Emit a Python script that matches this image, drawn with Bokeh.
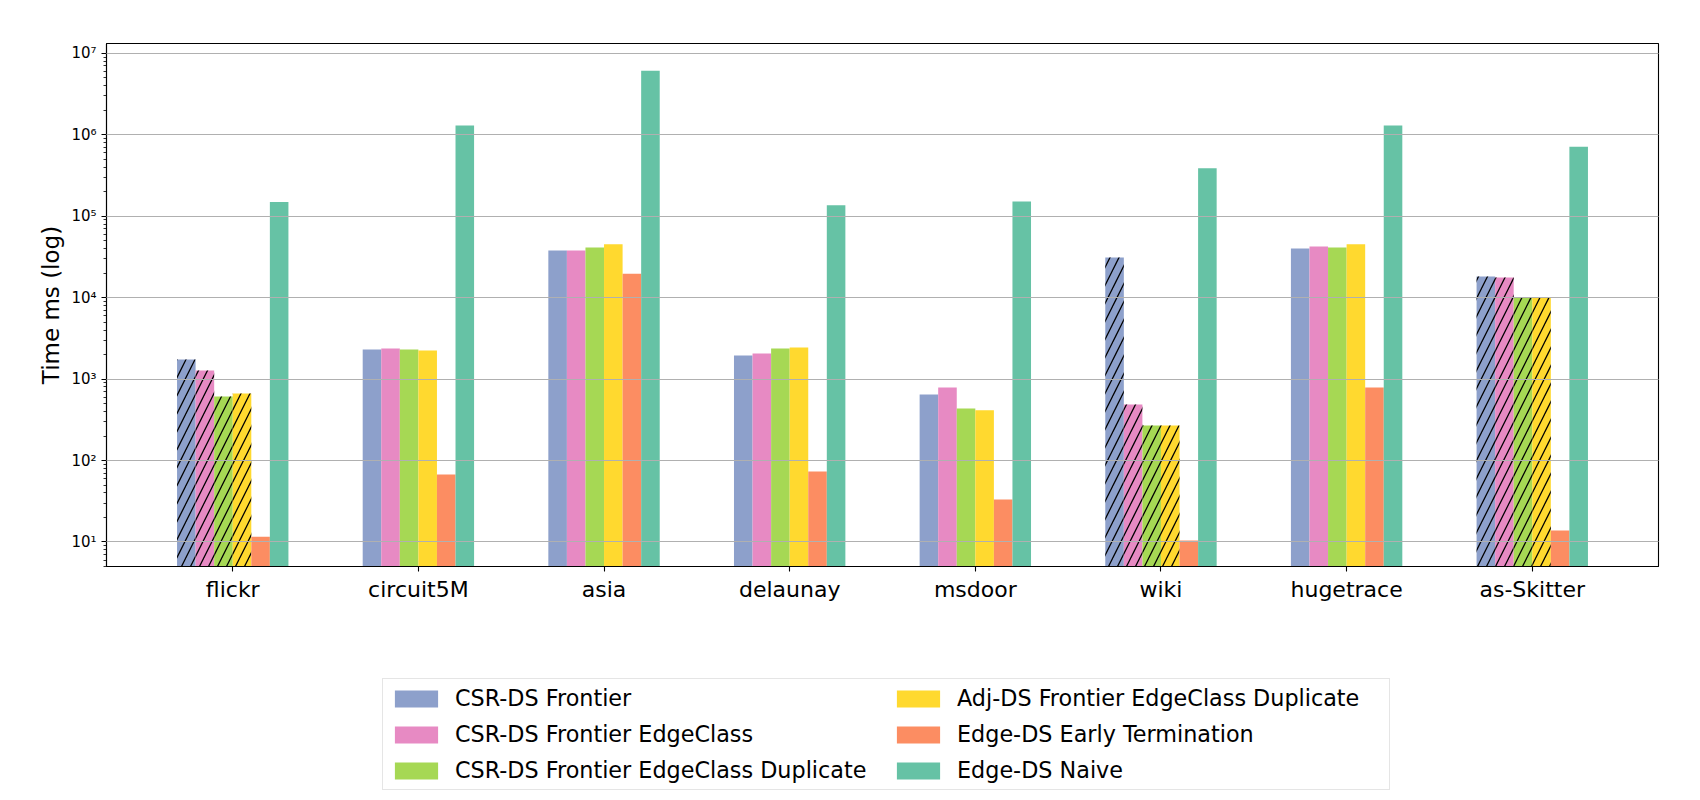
import numpy as np
from bokeh.plotting import figure
from bokeh.layouts import column
from bokeh.models import (ColumnDataSource, Range1d, FixedTicker, CustomJSTickFormatter,
                          Legend, LegendItem)
from bokeh.embed import file_html
from bokeh.resources import INLINE

categories = ["flickr", "circuit5M", "asia", "delaunay", "msdoor", "wiki", "hugetrace", "as-Skitter"]
series_names = [
    "CSR-DS Frontier",
    "CSR-DS Frontier EdgeClass",
    "CSR-DS Frontier EdgeClass Duplicate",
    "Adj-DS Frontier EdgeClass Duplicate",
    "Edge-DS Early Termination",
    "Edge-DS Naive",
]
csr_frontier = [1742, 2311, 38000, 1950, 647, 31200, 40200, 18200]
csr_frontier_edgeclass = [1276, 2377, 38000, 2064, 788, 488, 42600, 17700]
csr_frontier_edgeclass_dup = [611, 2311, 41400, 2378, 435, 269, 41400, 10000]
adj_frontier_edgeclass_dup = [665, 2245, 45100, 2445, 415, 269, 45100, 10000]
edge_early_termination = [11.6, 67.3, 19700, 73.3, 33.2, 10.4, 788, 13.8]
edge_naive = [149000, 1300000, 6100000, 136000, 152000, 387000, 1300000, 713000]

hatched_groups = ["flickr", "wiki", "as-Skitter"]
hatched_series = [True, True, True, True, False, False]
colors = ["#8da0cb", "#e78ac3", "#a6d854", "#ffd92f", "#fc8d62", "#66c2a5"]

series_values = [csr_frontier, csr_frontier_edgeclass, csr_frontier_edgeclass_dup,
                 adj_frontier_edgeclass_dup, edge_early_termination, edge_naive]

bar_w = 0.1
n = len(series_values)
W = 1684
FRAME_LEFT = 106

p = figure(width=W, height=616, y_axis_type="log",
           x_range=Range1d(-0.68, 7.68), y_range=Range1d(5, 1.32e7),
           output_backend="svg", toolbar_location=None,
           min_border_left=FRAME_LEFT, min_border_right=26, min_border_top=43, min_border_bottom=50)

base = np.arange(len(categories))
for k, vals in enumerate(series_values):
    xs = base + (k - (n - 1) / 2) * bar_w
    hp = ["/" if (hatched_series[k] and c in hatched_groups) else " " for c in categories]
    src = ColumnDataSource(dict(x=xs, top=vals, hp=hp))
    p.vbar(x="x", top="top", bottom=1, width=bar_w, source=src,
           fill_color=colors[k], line_color=None,
           hatch_pattern="hp", hatch_color="black", hatch_weight=1.3, hatch_scale=18)

p.outline_line_color = "black"
p.outline_line_width = 1.1

p.yaxis.ticker = FixedTicker(ticks=[10.0 ** e for e in range(1, 8)],
                             minor_ticks=[m * 10.0 ** e for e in range(0, 8) for m in range(2, 10)])
p.yaxis.formatter = CustomJSTickFormatter(code="""
const sup = {"0":"\u2070","1":"\u00b9","2":"\u00b2","3":"\u00b3","4":"\u2074","5":"\u2075","6":"\u2076","7":"\u2077","8":"\u2078","9":"\u2079","-":"\u207b"};
const e = Math.round(Math.log10(tick));
return "10" + String(e).split("").map(c => sup[c]).join("");
""")
p.yaxis.axis_label = "Time ms (log)"
p.yaxis.axis_label_text_font = "DejaVu Sans"
p.yaxis.axis_label_text_font_size = "23px"
p.yaxis.axis_label_text_font_style = "normal"
p.yaxis.axis_label_text_color = "black"
p.yaxis.axis_label_standoff = 4
p.yaxis.major_label_text_font = "DejaVu Sans"
p.yaxis.major_label_text_font_size = "15px"
p.yaxis.major_label_text_color = "black"
p.yaxis.major_tick_out = 5
p.yaxis.major_tick_in = 0
p.yaxis.minor_tick_out = 3
p.yaxis.minor_tick_in = 0
p.yaxis.major_label_standoff = 5

p.xaxis.ticker = FixedTicker(ticks=list(range(len(categories))), minor_ticks=[])
p.xaxis.formatter = CustomJSTickFormatter(args=dict(labels=categories), code="""
const i = Math.round(tick);
return (i >= 0 && i < labels.length) ? labels[i] : "";
""")
p.xaxis.major_label_text_font = "DejaVu Sans"
p.xaxis.major_label_text_font_size = "22px"
p.xaxis.major_label_text_color = "black"
p.xaxis.major_tick_out = 5
p.xaxis.major_tick_in = 0
p.xaxis.minor_tick_out = 0
p.xaxis.major_label_standoff = 5

for ax in (p.xaxis[0], p.yaxis[0]):
    ax.axis_line_color = "black"
    ax.axis_line_width = 1.1
    ax.major_tick_line_width = 1.1
    ax.minor_tick_line_width = 0.8

p.xgrid.grid_line_color = None
p.ygrid.grid_line_color = "#b0b0b0"
p.ygrid.grid_line_width = 1.1
p.ygrid.level = "annotation"

# legend figure below the chart (its frame is aligned with the chart's frame by the column)
leg_fig = figure(width=W, height=176, x_range=Range1d(0, 1), y_range=Range1d(0, 1),
                 output_backend="svg", toolbar_location=None,
                 x_axis_location=None, y_axis_location=None,
                 min_border_left=FRAME_LEFT, min_border_right=26,
                 min_border_top=0, min_border_bottom=0)
leg_fig.outline_line_color = None
leg_fig.xgrid.visible = False
leg_fig.ygrid.visible = False

items = []
for name, c in zip(series_names, colors):
    # legend-only proxy renderer (NaN bar is never drawn)
    r = leg_fig.vbar(x=[np.nan], top=[np.nan], width=0.1, fill_color=c, line_color=None)
    items.append(LegendItem(label=name, renderers=[r]))

legend = Legend(items=items, ncols=2, location=(382 - FRAME_LEFT, 2), margin=0,
                label_text_font="DejaVu Sans", label_text_font_size="22.3px",
                label_text_color="black",
                glyph_width=54, glyph_height=21, label_standoff=12,
                label_height=25, label_width=426, spacing=10, padding=6,
                border_line_color="#cccccc", border_line_width=1.1,
                background_fill_color="white", background_fill_alpha=1.0)
leg_fig.add_layout(legend)

layout = column(p, leg_fig, spacing=0)
open("out.html", "w").write(file_html(layout, INLINE))
